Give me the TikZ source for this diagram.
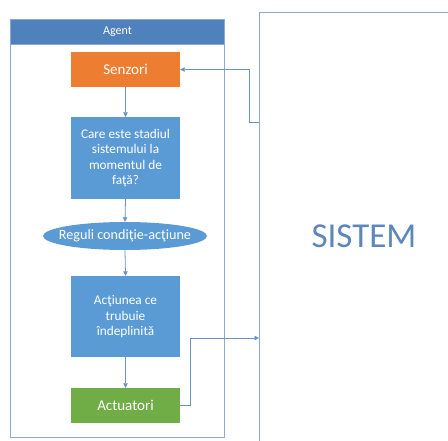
\documentclass[tikz,border=0pt]{standalone}
\usepackage{fontspec}
\setmainfont{Carlito}
\usetikzlibrary{shapes.geometric,arrows.meta}
\definecolor{hdrblue}{HTML}{4F81BD}
\definecolor{boxblue}{HTML}{5B9BD5}
\definecolor{boxorange}{HTML}{ED7D31}
\definecolor{boxgreen}{HTML}{70AD47}
\definecolor{framecol}{HTML}{8FA9C9}
\definecolor{linecol}{HTML}{6A93C4}
\definecolor{systext}{HTML}{5B88BC}
\begin{document}
\begin{tikzpicture}[x=1pt,y=-1pt,
  stepbox/.style={rectangle, draw=none, text=white, minimum width=109pt,
    minimum height=35pt, align=center, font=\fontsize{13.3}{15.5}\selectfont, inner sep=2pt},
  rulebox/.style={ellipse, fill=boxblue, text=white, minimum width=164pt,
    minimum height=28pt, inner xsep=-10pt, inner ysep=0pt, font=\fontsize{14.2}{16}\selectfont},
  conn/.style={draw=linecol, line width=0.8pt, -{Triangle[length=4.5pt,width=4.5pt]}}]
\useasboundingbox (0,0) rectangle (448,441);

% agent frame with header
\node[draw=framecol, line width=1pt, minimum width=214pt, minimum height=418pt,
  anchor=north west, inner sep=0pt] (agent) at (10,19) {};
\node[fill=hdrblue, draw=framecol, line width=1pt, minimum width=214pt, minimum height=25pt,
  anchor=north west, inner sep=0pt, text=white, font=\fontsize{12}{14}\selectfont] (hdr) at (10,19) {Agent};

% steps inside the agent
\node[stepbox, fill=boxorange, font=\fontsize{15}{17}\selectfont] (senz) at (125.5,69.5) {Senzori};
\node[stepbox, fill=boxblue, minimum height=82pt] (stare) at (125.5,158)
  {Care este stadiul\\sistemului la\\momentul de\\fa\c{t}\u{a}?};
\node[rulebox] (reguli) at (125,236) {Reguli condi\c{t}ie-ac\c{t}iune};
\node[stepbox, fill=boxblue, minimum height=81pt] (actiune) at (125.5,316.5)
  {Ac\c{t}iunea ce\\trubuie\\\^{i}ndeplinit\u{a}};
\node[stepbox, fill=boxgreen, font=\fontsize{15}{17}\selectfont] (act) at (125.5,405.5) {Actuatori};

\draw[conn] (senz.south) -- (stare.north);
\draw[conn] (stare.south) -- (reguli.north);
\draw[conn] (reguli.south) -- (actiune.north);
\draw[conn] (actiune.south) -- (act.north);

% system box, open to the right and bottom
\draw[draw=framecol, line width=1pt] (448,13) -- (259,13) -- (259,441);
\node[text=systext, font=\fontsize{35}{40}\selectfont] (sistem) at (364,236) {SISTEM};
\coordinate (sysout) at (259,122);
\coordinate (sysin) at (259,338);

% feedback loop between agent and system
\draw[conn] (act.east) -- ++(10,0) |- (sysin);
\draw[conn] (sysout) -- ++(-10,0) |- (senz.east);
\end{tikzpicture}
\end{document}
